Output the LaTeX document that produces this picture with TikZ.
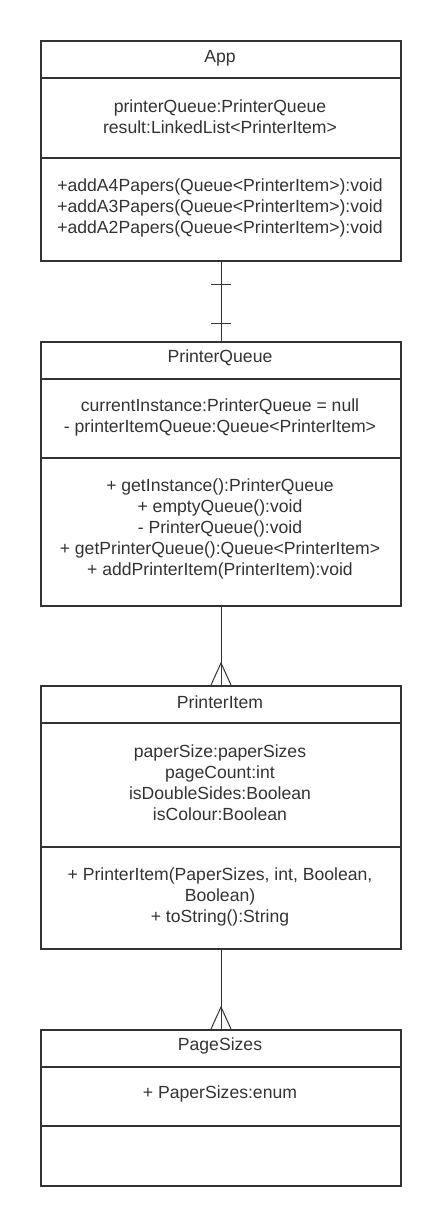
\documentclass[tikz,border=0pt]{standalone}
\usepackage{fontspec}
\setmainfont{Liberation Sans}
\usetikzlibrary{calc}
\definecolor{umlgray}{HTML}{333333}

\begin{document}
\begin{tikzpicture}[x=1pt,y=-1pt,
   classbox/.style={draw=umlgray,line width=2pt,anchor=north west,minimum width=360pt,inner sep=0pt},
   sep/.style={draw=umlgray,line width=2pt},
   txt/.style={text=umlgray,align=center,inner sep=0pt,font=\fontsize{17.6}{21}\selectfont},
   link/.style={draw=umlgray,line width=1pt}]
   \useasboundingbox (0,0) rectangle (440,1225);

   % App
   \node[classbox,minimum height=220pt] (app) at (40,40) {};
   \draw[sep] (40,77.7) -- (400,77.7);
   \draw[sep] (40,157.7) -- (400,157.7);
   \node[txt] (appname) at (220,58) {App};
   \node[txt] (appattr) at (220,117) {printerQueue:PrinterQueue\\result:LinkedList<PrinterItem>};
   \node[txt] (appops) at (220,207.5) {+addA4Papers(Queue<PrinterItem>):void\\+addA3Papers(Queue<PrinterItem>):void\\+addA2Papers(Queue<PrinterItem>):void};

   % PrinterQueue
   \node[classbox,minimum height=264pt] (queue) at (40,341) {};
   \draw[sep] (40,379) -- (400,379);
   \draw[sep] (40,458) -- (400,458);
   \node[txt] (queuename) at (220,358) {PrinterQueue};
   \node[txt] (queueattr) at (220,417.5) {currentInstance:PrinterQueue = null\\- printerItemQueue:Queue<PrinterItem>};
   \node[txt] (queueops) at (220,529) {+ getInstance():PrinterQueue\\+ emptyQueue():void\\- PrinterQueue():void\\+ getPrinterQueue():Queue<PrinterItem>\\+ addPrinterItem(PrinterItem):void};

   % PrinterItem
   \node[classbox,minimum height=263pt] (item) at (40,685) {};
   \draw[sep] (40,723) -- (400,723);
   \draw[sep] (40,847) -- (400,847);
   \node[txt] (itemname) at (220,702) {PrinterItem};
   \node[txt] (itemattr) at (220,783) {paperSize:paperSizes\\pageCount:int\\isDoubleSides:Boolean\\isColour:Boolean};
   \node[txt] (itemops) at (220,897) {+ PrinterItem(PaperSizes, int, Boolean,\\Boolean)\\+ toString():String};

   % PageSizes
   \node[classbox,minimum height=156pt] (sizes) at (40,1029) {};
   \draw[sep] (40,1067) -- (400,1067);
   \draw[sep] (40,1126) -- (400,1126);
   \node[txt] (sizesname) at (220,1046) {PageSizes};
   \node[txt] (sizesattr) at (220,1094) {+ PaperSizes:enum};

   % one to one
   \draw[link] (app.south) -- (queue.north);
   \draw[link] ($(app.south)+(-10,22)$) -- ($(app.south)+(10,22)$);
   \draw[link] ($(app.south)+(-10,61)$) -- ($(app.south)+(10,61)$);

   % one to many
   \draw[link] (queue.south) -- (item.north);
   \draw[link] ($(item.north)+(-10,0)$) -- ($(item.north)+(0,-22)$) -- ($(item.north)+(10,0)$);
   \draw[link] (item.south) -- (sizes.north);
   \draw[link] ($(sizes.north)+(-10,0)$) -- ($(sizes.north)+(0,-22)$) -- ($(sizes.north)+(10,0)$);
\end{tikzpicture}
\end{document}
